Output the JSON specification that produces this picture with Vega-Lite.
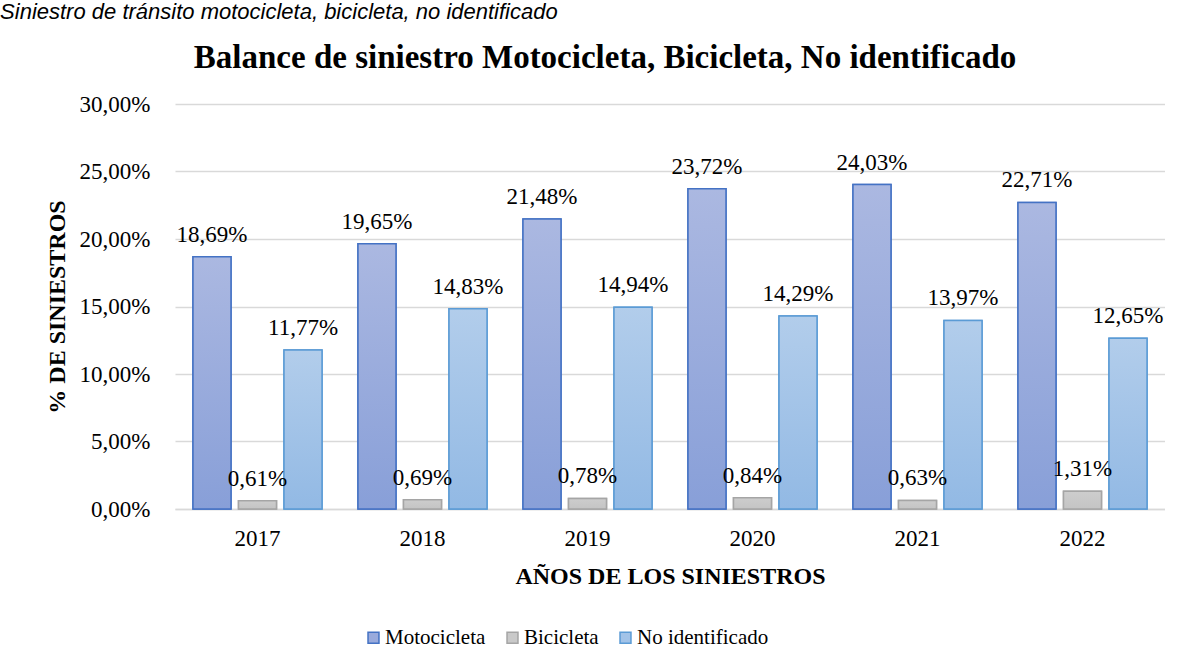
{
  "$schema": "https://vega.github.io/schema/vega-lite/v6.json",
  "background": "white",
  "padding": {"left": 0, "top": 1, "right": 0, "bottom": 0},
  "config": {
    "locale": {"number": {"decimal": ",", "thousands": ".", "grouping": [3], "currency": ["", " €"]}},
    "font": "Liberation Serif",
    "view": {"stroke": null}
  },
  "title": {
    "text": "Siniestro de tránsito motocicleta, bicicleta, no identificado",
    "font": "Liberation Sans",
    "fontStyle": "italic",
    "fontWeight": "normal",
    "fontSize": 22,
    "color": "#000000",
    "anchor": "start",
    "frame": "bounds",
    "dx": -45,
    "offset": 18
  },
  "vconcat": [
    {
      "width": 990,
      "height": 405,
      "title": {
        "text": "Balance de siniestro Motocicleta, Bicicleta, No identificado",
        "font": "Liberation Serif",
        "fontWeight": "bold",
        "fontSize": 33,
        "color": "#000000",
        "anchor": "middle",
        "frame": "bounds",
        "offset": 18
      },
      "data": {
        "values": [
          {"year": "2017", "s": "Motocicleta", "v": 0.1869},
          {"year": "2017", "s": "Bicicleta", "v": 0.0061},
          {"year": "2017", "s": "No identificado", "v": 0.1177},
          {"year": "2018", "s": "Motocicleta", "v": 0.1965},
          {"year": "2018", "s": "Bicicleta", "v": 0.0069},
          {"year": "2018", "s": "No identificado", "v": 0.1483},
          {"year": "2019", "s": "Motocicleta", "v": 0.2148},
          {"year": "2019", "s": "Bicicleta", "v": 0.0078},
          {"year": "2019", "s": "No identificado", "v": 0.1494},
          {"year": "2020", "s": "Motocicleta", "v": 0.2372},
          {"year": "2020", "s": "Bicicleta", "v": 0.0084},
          {"year": "2020", "s": "No identificado", "v": 0.1429},
          {"year": "2021", "s": "Motocicleta", "v": 0.2403},
          {"year": "2021", "s": "Bicicleta", "v": 0.0063},
          {"year": "2021", "s": "No identificado", "v": 0.1397},
          {"year": "2022", "s": "Motocicleta", "v": 0.2271},
          {"year": "2022", "s": "Bicicleta", "v": 0.0131},
          {"year": "2022", "s": "No identificado", "v": 0.1265}
        ]
      },
      "encoding": {
        "x": {
          "field": "year",
          "type": "nominal",
          "scale": {"paddingInner": 0.218, "paddingOuter": 0.109},
          "axis": {
            "title": "AÑOS DE LOS SINIESTROS",
            "titleFont": "Liberation Serif",
            "titleFontSize": 24,
            "titleFontWeight": "bold",
            "titleColor": "#000000",
            "titlePadding": 14,
            "labelAngle": 0,
            "labelFont": "Liberation Serif",
            "labelFontSize": 23,
            "labelColor": "#000000",
            "labelPadding": 18,
            "ticks": false,
            "domain": true,
            "domainColor": "#D9D9D9",
            "domainWidth": 1.5
          }
        },
        "xOffset": {
          "field": "s",
          "type": "nominal",
          "sort": ["Motocicleta", "Bicicleta", "No identificado"],
          "scale": {"domain": ["Motocicleta", "Bicicleta", "No identificado"], "paddingInner": 0.165, "paddingOuter": 0}
        },
        "y": {
          "field": "v",
          "type": "quantitative",
          "scale": {"domain": [0, 0.3], "nice": false},
          "axis": {
            "title": "% DE SINIESTROS",
            "titleFont": "Liberation Serif",
            "titleFontSize": 24,
            "titleFontWeight": "bold",
            "titleColor": "#000000",
            "titlePadding": 10,
            "values": [0, 0.05, 0.1, 0.15, 0.2, 0.25, 0.3],
            "format": ".2%",
            "labelFont": "Liberation Serif",
            "labelFontSize": 23,
            "labelColor": "#000000",
            "labelPadding": 25,
            "ticks": false,
            "domain": false,
            "grid": true,
            "gridColor": "#D9D9D9",
            "gridWidth": 1.5
          }
        }
      },
      "layer": [
        {
          "mark": {"type": "bar", "strokeWidth": 1.5},
          "encoding": {
            "fill": {
              "field": "s",
              "type": "nominal",
              "scale": {"domain": ["Motocicleta", "Bicicleta", "No identificado"], "range": ["#99AADC", "#C9C9C9", "#A2C3E8"]},
              "legend": {
                "title": null,
                "orient": "none",
                "legendX": 188,
                "legendY": 523,
                "direction": "horizontal",
                "symbolType": "square",
                "symbolSize": 120,
                "symbolStrokeWidth": 1.5,
                "labelFont": "Liberation Serif",
                "labelFontSize": 21,
                "labelColor": "#000000",
                "labelOffset": 1,
                "columnPadding": 16
              }
            },
            "stroke": {
              "field": "s",
              "type": "nominal",
              "scale": {"domain": ["Motocicleta", "Bicicleta", "No identificado"], "range": ["#4472C4", "#A5A5A5", "#5B9BD5"]}
            }
          }
        },
        {
          "transform": [{"filter": "datum.s === 'Motocicleta'"}],
          "mark": {
            "type": "bar",
            "stroke": "#4472C4",
            "strokeWidth": 1.5,
            "fill": {"gradient": "linear", "x1": 0, "y1": 0, "x2": 0, "y2": 1, "stops": [{"offset": 0, "color": "#ABB8E1"}, {"offset": 1, "color": "#889FD8"}]}
          }
        },
        {
          "transform": [{"filter": "datum.s === 'Bicicleta'"}],
          "mark": {
            "type": "bar",
            "stroke": "#A5A5A5",
            "strokeWidth": 1.5,
            "fill": {"gradient": "linear", "x1": 0, "y1": 0, "x2": 0, "y2": 1, "stops": [{"offset": 0, "color": "#CDCDCD"}, {"offset": 1, "color": "#C4C4C4"}]}
          }
        },
        {
          "transform": [{"filter": "datum.s === 'No identificado'"}],
          "mark": {
            "type": "bar",
            "stroke": "#5B9BD5",
            "strokeWidth": 1.5,
            "fill": {"gradient": "linear", "x1": 0, "y1": 0, "x2": 0, "y2": 1, "stops": [{"offset": 0, "color": "#B2CDEB"}, {"offset": 1, "color": "#92B9E4"}]}
          }
        },
        {
          "mark": {"type": "text", "baseline": "alphabetic", "align": "center", "dy": -15, "font": "Liberation Serif", "fontSize": 23, "color": "#000000"},
          "encoding": {
            "text": {"field": "v", "type": "quantitative", "format": ".2%"}
          }
        }
      ]
    }
  ]
}
